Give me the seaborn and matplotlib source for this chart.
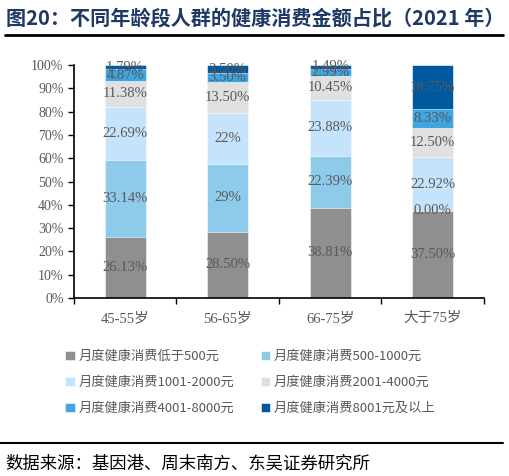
import matplotlib
matplotlib.use("Agg")
import matplotlib.pyplot as plt
from matplotlib.lines import Line2D
import seaborn as sns
import pandas as pd
import numpy as np

# 年龄段
groups = ['45-55岁', '56-65岁', '66-75岁', '大于75岁']

# 各消费档次占比 (%)
low500 = [26.13, 28.50, 38.81, 37.50]
r500_1000 = [33.14, 29.0, 22.39, 0.0]
r1001_2000 = [22.69, 22.0, 23.88, 22.92]
r2001_4000 = [11.38, 13.50, 10.45, 12.50]
r4001_8000 = [4.87, 3.50, 2.99, 8.33]
above8001 = [1.79, 3.50, 1.49, 18.75]

# 标签文字 (照原图)
lab_low500 = ['26.13%', '28.50%', '38.81%', '37.50%']
lab_500_1000 = ['33.14%', '29%', '22.39%', '0.00%']
lab_1001_2000 = ['22.69%', '22%', '23.88%', '22.92%']
lab_2001_4000 = ['11.38%', '13.50%', '10.45%', '12.50%']
lab_4001_8000 = ['4.87%', '3.50%', '2.99%', '8.33%']
lab_above8001 = ['1.79%', '3.50%', '1.49%', '18.75%']

series_names = ['月度健康消费低于500元', '月度健康消费500-1000元', '月度健康消费1001-2000元',
                '月度健康消费2001-4000元', '月度健康消费4001-8000元', '月度健康消费8001元及以上']
series_vals = [low500, r500_1000, r1001_2000, r2001_4000, r4001_8000, above8001]
series_labs = [lab_low500, lab_500_1000, lab_1001_2000, lab_2001_4000, lab_4001_8000, lab_above8001]
colors = ['#8f8f8f', '#8ecbea', '#c5e4fc', '#e0e0e0', '#3fa5e0', '#00599f']

sns.set_style("white")
plt.rcParams['font.family'] = ['Liberation Serif', 'Noto Sans CJK SC', 'DejaVu Sans']
plt.rcParams['axes.unicode_minus'] = False

vals = np.array(series_vals)
cum = np.cumsum(vals, axis=0)

fig = plt.figure(figsize=(5.1, 4.76), dpi=100)
ax = fig.add_axes([0.145, 0.374, 0.804, 0.489])

# 叠加柱: 从最高累计值往下画
for i in range(len(series_names) - 1, -1, -1):
    df = pd.DataFrame({'年龄段': groups, '累计': cum[i]})
    sns.barplot(data=df, x='年龄段', y='累计', color=colors[i], label=series_names[i],
                width=0.4, saturation=1, edgecolor='white', linewidth=0.4, ax=ax)

handles, labels = ax.get_legend_handles_labels()
if ax.get_legend() is not None:
    ax.get_legend().remove()

# 数据标签
for i in range(len(series_names)):
    for j in range(len(groups)):
        ax.text(j, cum[i][j] - vals[i][j] / 2, series_labs[i][j], ha='center', va='center',
                fontsize=10.5, color='#595959', family=['Liberation Serif', 'Noto Sans CJK SC'])

ax.set_ylim(0, 100)
ax.set_xlim(-0.5, 3.5)
ax.set_yticks(range(0, 101, 10))
ax.set_yticklabels([f'{t}%' for t in range(0, 101, 10)])
ax.set_xlabel('')
ax.set_ylabel('')
for s in ['top', 'right']:
    ax.spines[s].set_visible(False)
for s in ['left', 'bottom']:
    ax.spines[s].set_color('black')
    ax.spines[s].set_linewidth(1.2)
ax.tick_params(axis='y', which='major', direction='out', length=4, width=1, colors='black',
               labelcolor='#595959', labelsize=10, left=True)
ax.tick_params(axis='x', which='major', length=0, labelcolor='#595959', labelsize=10.5, pad=10)
ax.set_xticks([-0.5, 0.5, 1.5, 2.5, 3.5], minor=True)
ax.tick_params(axis='x', which='minor', direction='out', length=4, width=1, colors='black', bottom=True)
for lab in ax.get_xticklabels():
    lab.set_family(['Liberation Serif', 'Noto Sans CJK SC'])

# 图例: 按行排列
order = {n: k for k, n in enumerate(labels)}
h = [handles[order[n]] for n in series_names]
h = [h[0], h[2], h[4], h[1], h[3], h[5]]
l = [series_names[k] for k in [0, 2, 4, 1, 3, 5]]
leg = fig.legend(h, l, ncol=2, loc='upper left', bbox_to_anchor=(0.105, 0.29), frameon=False,
                 handlelength=0.7, handleheight=0.7, handletextpad=0.3, columnspacing=2.0,
                 labelspacing=1.0, prop={'family': ['Noto Sans CJK SC'], 'size': 9.5})
for t in leg.get_texts():
    t.set_color('#595959')

# 标题与来源
fig.text(0.012, 0.962, '图20：不同年龄段人群的健康消费金额占比（2021 年）', fontsize=14.5,
         fontweight='bold', color='#1f3864', va='center', family=['Noto Sans CJK SC'])
fig.add_artist(Line2D([0.01, 0.986], [0.926, 0.926], color='black', linewidth=2))
fig.add_artist(Line2D([0.0, 0.986], [0.069, 0.069], color='black', linewidth=1.5))
fig.text(0.01, 0.027, '数据来源：基因港、周末南方、东吴证券研究所', fontsize=12.5,
         color='black', va='center', family=['Noto Sans CJK SC'])

fig.savefig('out.png', dpi=100)
